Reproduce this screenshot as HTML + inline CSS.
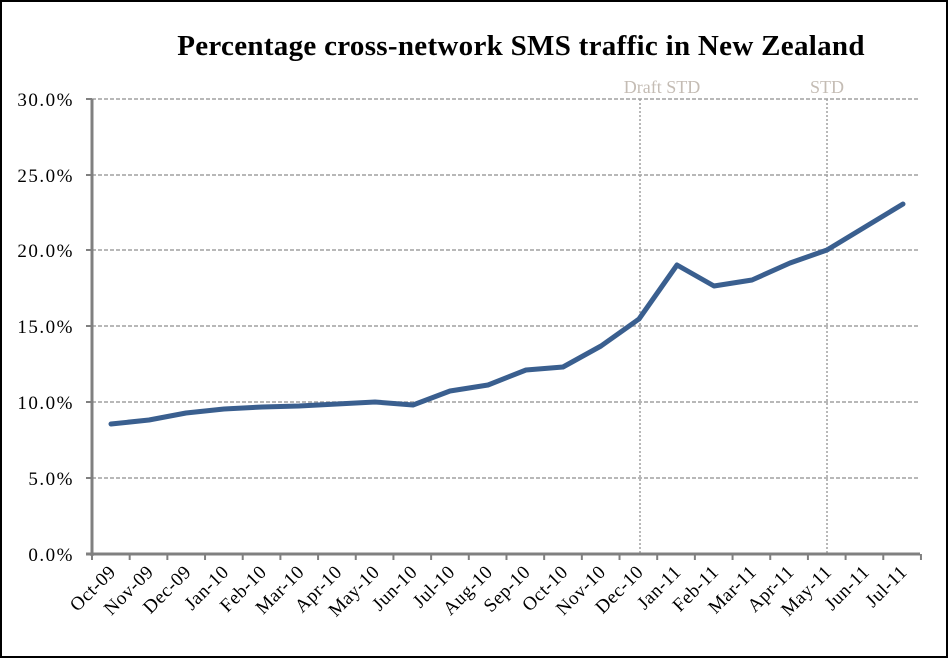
<!DOCTYPE html>
<html><head><meta charset="utf-8"><style>
body{margin:0;background:#fff;}
svg{display:block;font-family:"Liberation Serif",serif;}
</style></head><body>
<svg width="950" height="660" viewBox="0 0 950 660">
<rect x="1" y="1" width="946" height="656" fill="#fff" stroke="#000" stroke-width="2"/>
<text x="521" y="55" text-anchor="middle" font-size="29" font-weight="bold" letter-spacing="0.3">Percentage cross-network SMS traffic in New Zealand</text>
<g stroke="#a0a0a0" stroke-width="1.5" stroke-dasharray="4,2">
<line x1="92" y1="99" x2="920" y2="99"/>
<line x1="92" y1="175" x2="920" y2="175"/>
<line x1="92" y1="250" x2="920" y2="250"/>
<line x1="92" y1="326" x2="920" y2="326"/>
<line x1="92" y1="402" x2="920" y2="402"/>
<line x1="92" y1="478" x2="920" y2="478"/>
</g>
<g stroke="#a0a0a0" stroke-width="1.5" stroke-dasharray="2,2">
<line x1="640" y1="99" x2="640" y2="554"/>
<line x1="827" y1="99" x2="827" y2="554"/>
</g>
<text x="662" y="93" text-anchor="middle" font-size="18" fill="#c4bcb4">Draft STD</text>
<text x="827" y="93" text-anchor="middle" font-size="18" fill="#c4bcb4">STD</text>
<g stroke="#808080" stroke-width="3">
<line x1="92" y1="99" x2="92" y2="556"/>
<line x1="86" y1="554" x2="920" y2="554"/>
</g>
<g stroke="#808080" stroke-width="2">
<line x1="86" y1="99" x2="92" y2="99"/><line x1="86" y1="175" x2="92" y2="175"/><line x1="86" y1="250" x2="92" y2="250"/><line x1="86" y1="326" x2="92" y2="326"/><line x1="86" y1="402" x2="92" y2="402"/><line x1="86" y1="478" x2="92" y2="478"/>
</g>
<g id="ticks" stroke="#808080" stroke-width="2"></g>
<g font-size="19" fill="#000" text-anchor="end" letter-spacing="1.5">
<text x="74" y="106">30.0%</text><text x="74" y="182">25.0%</text><text x="74" y="257">20.0%</text><text x="74" y="333">15.0%</text><text x="74" y="409">10.0%</text><text x="74" y="485">5.0%</text><text x="74" y="561">0.0%</text>
</g>
<g id="xl" font-size="19" text-anchor="end" letter-spacing="0.5"></g>
<polyline fill="none" stroke="#3a5f8f" stroke-width="5" stroke-linejoin="round" stroke-linecap="round" points="111,424 149,420 186,413 224,409 262,407 299,406 337,404 375,402 413,405 450,391 488,385 526,370 563,367 601,346 639,319 677,265 714,286 752,280 790,263 827,250 865,227 903,204"/>
<script>
var L=["Oct-09","Nov-09","Dec-09","Jan-10","Feb-10","Mar-10","Apr-10","May-10","Jun-10","Jul-10","Aug-10","Sep-10","Oct-10","Nov-10","Dec-10","Jan-11","Feb-11","Mar-11","Apr-11","May-11","Jun-11","Jul-11"];
var ns="http://www.w3.org/2000/svg",t=document.getElementById("ticks"),xl=document.getElementById("xl");
for(var i=0;i<=22;i++){var x=92+i*37.68;var l=document.createElementNS(ns,"line");l.setAttribute("x1",x);l.setAttribute("x2",x);l.setAttribute("y1",554);l.setAttribute("y2",560);t.appendChild(l);}
for(var i=0;i<22;i++){var x=92+(i+0.5)*37.68+6;var e=document.createElementNS(ns,"text");e.setAttribute("transform","translate("+x+",573) rotate(-45)");e.textContent=L[i];xl.appendChild(e);}
</script>
</svg>
</body></html>
